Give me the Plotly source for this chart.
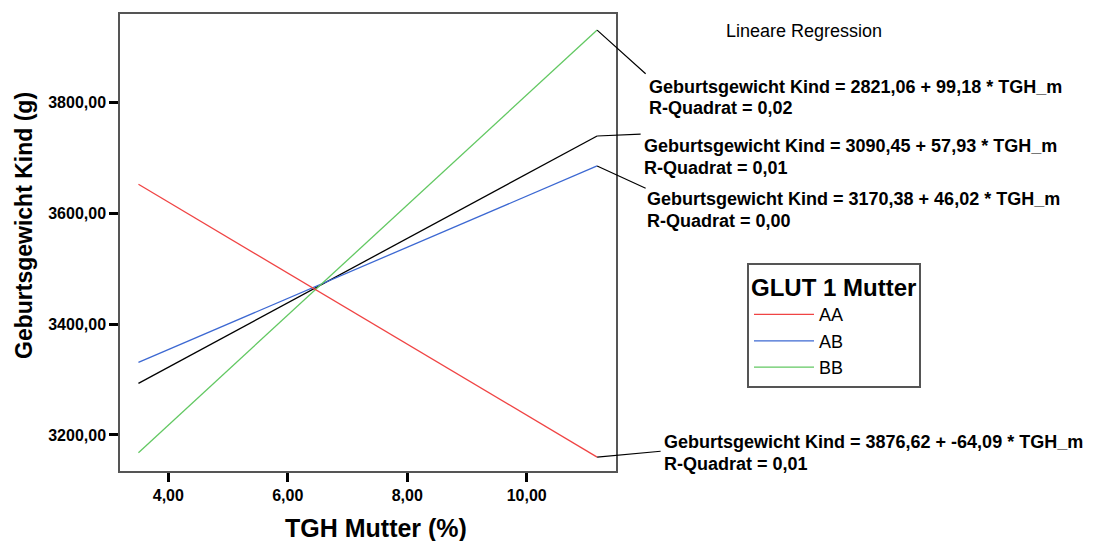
import plotly.graph_objects as go

# ---- data ----
x_range_ends = [3.5, 11.18]
groups = ["AA", "AB", "BB"]
y_AA = [3652.0, 3160.0]
y_AB = [3331.0, 3685.0]
y_BB = [3168.0, 3930.0]
y_total = [3293.0, 3739.0]

eq_green = ["Geburtsgewicht Kind = 2821,06 + 99,18 * TGH_m", "R-Quadrat = 0,02"]
eq_total = ["Geburtsgewicht Kind = 3090,45 + 57,93 * TGH_m", "R-Quadrat = 0,01"]
eq_blue = ["Geburtsgewicht Kind = 3170,38 + 46,02 * TGH_m", "R-Quadrat = 0,00"]
eq_red = ["Geburtsgewicht Kind = 3876,62 + -64,09 * TGH_m", "R-Quadrat = 0,01"]

x_ticks = [4, 6, 8, 10]
y_ticks = [3200, 3400, 3600, 3800]

colors = {"AA": "#f04444", "AB": "#3c68d2", "BB": "#62c862", "total": "#000000"}
FONT = "Liberation Sans, Arial, Helvetica, sans-serif"

W, H = 1093, 541
L, R, T, B = 120, 477, 14, 70
PW, PH = W - L - R, H - T - B


def px(x):
    return (x - L) / PW


def py(y):
    return (H - B - y) / PH


fig = go.Figure()
fig.add_trace(go.Scatter(x=x_range_ends, y=y_total, mode="lines",
                         line=dict(color=colors["total"], width=1.3),
                         showlegend=False, hoverinfo="skip"))
fig.add_trace(go.Scatter(x=x_range_ends, y=y_AB, mode="lines", name="AB",
                         line=dict(color=colors["AB"], width=1.3)))
fig.add_trace(go.Scatter(x=x_range_ends, y=y_BB, mode="lines", name="BB",
                         line=dict(color=colors["BB"], width=1.3)))
fig.add_trace(go.Scatter(x=x_range_ends, y=y_AA, mode="lines", name="AA",
                         line=dict(color=colors["AA"], width=1.3)))

annotations = []

# leader lines from line ends to equation labels
leaders = [
    (x_range_ends[1], y_BB[1], 50, 45),
    (x_range_ends[1], y_total[1], 45, -2),
    (x_range_ends[1], y_AB[1], 50, 23),
    (x_range_ends[1], y_AA[1], 65, -6),
]
for (lx, ly, ax, ay) in leaders:
    annotations.append(dict(x=lx, y=ly, xref="x", yref="y", text=" ",
                            showarrow=True, arrowhead=0, arrowwidth=1.2,
                            arrowcolor="black", ax=ax, ay=ay,
                            axref="pixel", ayref="pixel", standoff=0,
                            startstandoff=0, font=dict(size=1)))

# equation text blocks (left x, centre y of each line)
blocks = [
    (eq_green, 647, [87, 108]),
    (eq_total, 642, [146, 168]),
    (eq_blue, 645, [199, 221]),
    (eq_red, 662, [442, 464]),
]
for lines, x0, ys in blocks:
    for txt, yy in zip(lines, ys):
        annotations.append(dict(x=px(x0), y=py(yy), xref="paper", yref="paper",
                                text=txt, showarrow=False, xanchor="left",
                                yanchor="middle",
                                font=dict(family=FONT, size=18, color="black",
                                          weight="bold")))

annotations.append(dict(x=px(724), y=py(31), xref="paper", yref="paper",
                        text="Lineare Regression", showarrow=False,
                        xanchor="left", yanchor="middle",
                        font=dict(family=FONT, size=18, color="black")))

annotations.append(dict(x=px(376), y=py(528), xref="paper", yref="paper",
                        text="TGH Mutter (%)", showarrow=False,
                        xanchor="center", yanchor="middle",
                        font=dict(family=FONT, size=25, color="black",
                                  weight="bold")))
annotations.append(dict(x=px(24), y=py(226), xref="paper", yref="paper",
                        text="Geburtsgewicht Kind (g)", showarrow=False,
                        textangle=-90, xanchor="center", yanchor="middle",
                        font=dict(family=FONT, size=23, color="black",
                                  weight="bold")))

axis_common = dict(showgrid=False, zeroline=False, showline=True, mirror=True,
                   linecolor="#555555", linewidth=1.5, ticks="outside",
                   ticklen=9, tickwidth=3, tickcolor="black",
                   tickformat=".2f",
                   tickfont=dict(family=FONT, size=16, color="black",
                                 weight="bold"))

fig.update_layout(
    width=W, height=H,
    margin=dict(l=L, r=R, t=T, b=B, autoexpand=False),
    paper_bgcolor="white", plot_bgcolor="white",
    separators=",.",
    xaxis=dict(range=[3.191, 11.496], tickvals=x_ticks, **axis_common),
    yaxis=dict(range=[3135, 3959], tickvals=y_ticks, **axis_common),
    annotations=annotations,
    showlegend=True,
    legend=dict(x=px(747), y=py(263), xanchor="left", yanchor="top",
                bordercolor="#555555", borderwidth=2, bgcolor="white",
                traceorder="normal", itemwidth=60, tracegroupgap=0,
                title=dict(text="GLUT 1 Mutter",
                           font=dict(family=FONT, size=24, color="black",
                                     weight="bold")),
                font=dict(family=FONT, size=18, color="black")),
)

# legend order AA, AB, BB
fig.data[3].legendrank = 1
fig.data[1].legendrank = 2
fig.data[2].legendrank = 3

fig.write_html("out.html")
